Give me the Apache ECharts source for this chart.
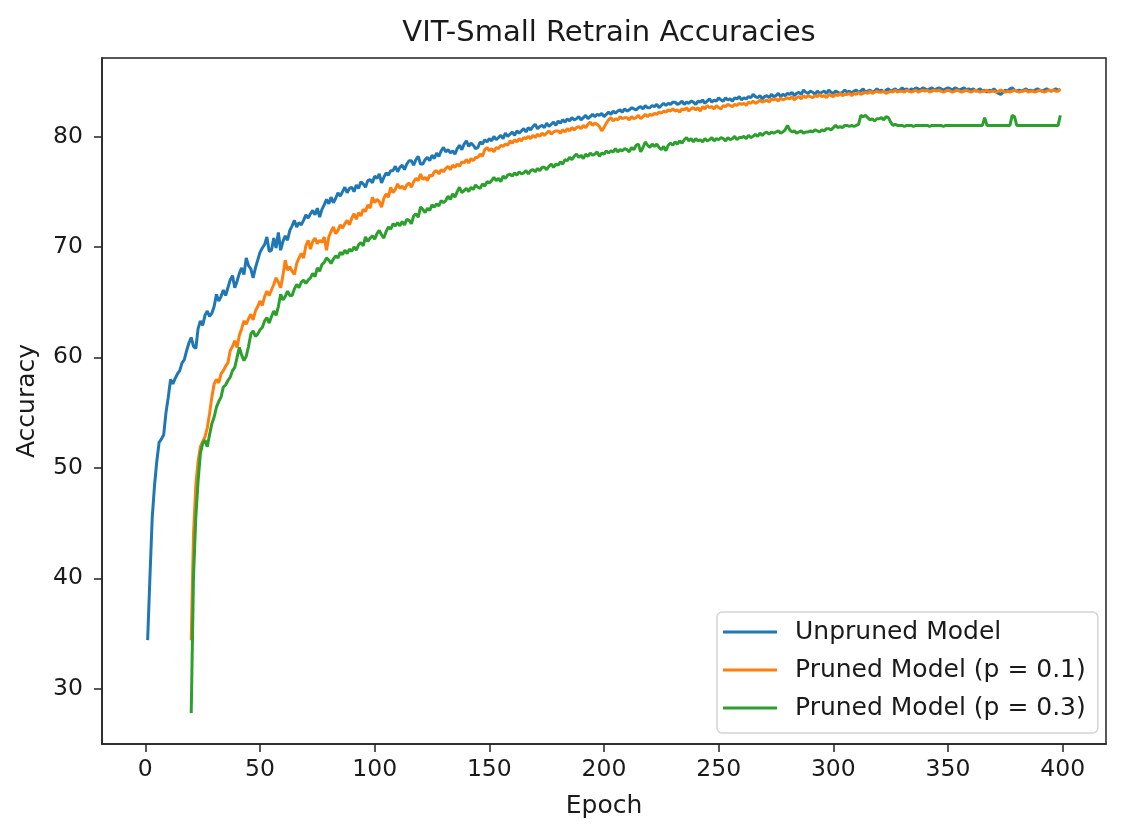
<!DOCTYPE html>
<html>
<head>
<meta charset="utf-8">
<title>VIT-Small Retrain Accuracies</title>
<script src="https://cdn.jsdelivr.net/npm/echarts@6/dist/echarts.min.js"></script>
<style>
  html, body { margin: 0; padding: 0; background: #fff; }
  #chart { width: 1123px; height: 838px; }
</style>
</head>
<body>
<div id="chart"></div>
<script>
// accuracy per epoch
var unprunedStart = 1;
var unpruned = [
  34.4, 40.1, 45.5, 48.4, 50.6, 52.3, 52.6, 53.0, 55.0, 56.4,
  58.0, 57.6, 58.1, 58.5, 58.8, 59.5, 59.8, 60.6, 61.3, 61.8,
  61.0, 60.8, 62.6, 63.3, 62.9, 63.8, 64.2, 63.7, 64.0, 64.6,
  65.7, 65.1, 65.5, 66.1, 65.6, 66.3, 67.0, 67.4, 66.3, 66.9,
  67.6, 68.1, 67.5, 69.0, 68.3, 68.0, 67.2, 68.1, 68.8, 69.5,
  69.9, 70.2, 70.9, 69.6, 69.7, 70.8, 69.9, 71.3, 69.7, 70.5,
  71.0, 70.6, 71.5, 71.9, 72.4, 71.8, 72.2, 72.0, 72.4, 72.9,
  72.6, 73.0, 73.3, 72.9, 73.5, 72.7, 73.4, 73.8, 74.3, 73.9,
  74.5, 74.0, 74.4, 74.9, 74.6, 75.0, 75.4, 74.9, 75.3, 75.4,
  75.0, 75.6, 75.3, 75.9, 75.7, 75.4, 76.0, 76.1, 75.8, 76.4,
  76.2, 76.6, 75.8, 76.3, 76.7, 76.5, 76.9, 76.9, 77.3, 76.8,
  77.2, 77.4, 77.0, 77.5, 77.8, 77.8, 77.4, 77.9, 78.2, 77.5,
  77.5, 77.9, 78.1, 77.8, 78.3, 78.0, 78.5, 78.2, 78.7, 79.0,
  78.6, 78.8, 78.5, 78.7, 78.4, 78.9, 79.2, 78.8, 79.3, 79.6,
  79.1, 79.4, 79.2, 78.9, 79.0, 79.5, 79.3, 79.7, 79.5, 79.8,
  79.6, 80.0, 79.7, 79.9, 80.1, 79.8, 80.3, 80.0, 80.2, 80.4,
  80.1, 80.5, 80.3, 80.5, 80.7, 80.4, 80.8, 80.6, 80.9, 81.1,
  80.7, 80.9, 81.0, 80.8, 81.2, 80.9, 81.1, 81.3, 81.0, 81.4,
  81.2, 81.5, 81.3, 81.6, 81.4, 81.7, 81.5, 81.6, 81.8, 81.5,
  81.7, 81.9, 81.6, 81.8, 82.0, 81.8, 82.0, 81.9, 82.1, 81.8,
  82.0, 82.2, 82.0, 82.3, 82.1, 82.3, 82.4, 82.2, 82.5, 82.3,
  82.4, 82.6, 82.5, 82.4, 82.6, 82.7, 82.5, 82.8, 82.6, 82.6,
  82.8, 82.7, 82.9, 82.6, 82.8, 83.0, 82.8, 83.0, 82.9, 83.1,
  83.1, 82.9, 83.0, 83.2, 82.9, 83.1, 83.0, 83.2, 83.1, 82.9,
  83.2, 83.1, 83.3, 83.0, 83.2, 83.4, 83.1, 83.3, 83.2, 83.5,
  83.3, 83.2, 83.5, 83.3, 83.4, 83.2, 83.5, 83.4, 83.6, 83.3,
  83.5, 83.4, 83.6, 83.5, 83.8, 83.6, 83.5, 83.7, 83.4, 83.6,
  83.7, 83.5, 83.8, 83.6, 83.7, 83.9, 83.6, 83.8, 83.7, 83.9,
  83.8, 84.0, 83.7, 83.9, 84.0, 83.8, 84.2, 84.0, 83.9, 84.1,
  84.0, 83.8, 84.1, 83.9, 84.0, 84.1, 83.9, 84.2, 84.0, 83.9,
  84.1, 84.0, 83.9, 84.0, 84.2, 84.0, 84.1, 83.9, 84.1, 84.2,
  84.0, 84.1, 84.3, 84.0, 84.1, 84.2, 84.0, 84.1, 84.3, 84.1,
  84.2, 84.0, 84.2, 84.3, 84.1, 84.2, 84.3, 84.1, 84.2, 84.4,
  84.2, 84.3, 84.1, 84.3, 84.2, 84.4, 84.3, 84.2, 84.4, 84.3,
  84.2, 84.3, 84.4, 84.2, 84.3, 84.4, 84.3, 84.2, 84.3, 84.4,
  84.3, 84.2, 84.4, 84.3, 84.2, 84.3, 84.4, 84.2, 84.3, 84.2,
  84.3, 84.1, 84.2, 84.3, 84.1, 84.2, 84.0, 84.2, 84.1, 84.3,
  84.1, 83.9, 83.8, 84.0, 84.2, 84.1, 84.3, 84.4, 84.2, 84.1,
  84.2, 84.1, 84.2, 84.3, 84.1, 84.2, 84.1, 84.2, 84.3, 84.2,
  84.1, 84.2, 84.3, 84.2, 84.1, 84.2, 84.3, 84.2, 84.2
];

var prunedStart = 20;
var pruned01 = [
  34.4, 44.0, 48.4, 50.6, 51.9, 52.4, 52.8, 53.6, 54.9, 56.4,
  57.6, 58.0, 57.7, 58.5, 58.8, 59.2, 59.5, 60.6, 61.0, 61.5,
  60.9, 62.0, 62.6, 63.3, 63.0, 63.5, 63.9, 63.4, 64.2, 64.6,
  65.1, 64.7, 65.5, 66.0, 65.6, 66.1, 66.6, 67.2, 66.8, 66.3,
  67.4, 68.8, 67.9, 68.2, 67.8, 67.5, 68.5, 69.0, 69.4, 69.0,
  70.1, 70.6, 69.8, 70.5, 70.8, 70.3, 70.6, 70.4, 70.9, 69.7,
  70.9, 71.4, 71.8, 71.2, 71.5, 72.0, 71.7, 72.1, 72.4, 72.0,
  72.6, 73.0, 72.5, 73.1, 72.8, 73.4, 73.2, 73.8, 73.5, 74.5,
  74.0, 74.3, 74.1, 73.6, 74.4, 74.8, 74.5, 75.4, 74.9, 75.2,
  75.7, 75.3, 75.5, 75.2, 75.6, 75.8, 75.4, 75.9, 76.2, 76.0,
  76.6, 76.1, 76.3, 76.0, 76.5, 76.4, 76.8, 76.9, 76.6, 77.0,
  76.8, 77.1, 77.3, 77.0, 77.4, 77.2, 77.5, 77.3, 77.7, 77.6,
  77.9, 77.6, 78.0, 77.8, 78.1, 78.1, 78.4, 78.2, 78.8, 79.0,
  78.7, 78.9, 78.6, 79.0, 78.9, 79.2, 79.1, 79.3, 79.2, 79.6,
  79.4, 79.7, 79.5, 79.8, 79.6, 79.9, 79.8, 80.0, 79.8, 80.1,
  79.9, 80.2, 80.0, 80.3, 80.1, 80.3, 80.5, 80.2, 80.4, 80.5,
  80.5, 80.3, 80.6, 80.4, 80.7, 80.5, 80.8, 80.6, 80.8, 80.9,
  80.7, 81.0, 80.8, 81.1, 81.3, 81.0, 81.2, 81.1, 80.9, 80.5,
  80.8, 81.2, 81.5, 81.7, 81.4, 81.6, 81.5, 81.8, 81.6, 81.7,
  81.7, 81.5, 81.8, 81.6, 81.7, 81.9, 81.6, 81.8, 82.0, 81.8,
  82.0, 81.9, 82.1, 82.0, 82.2, 82.1, 82.3, 82.2, 82.4, 82.3,
  82.5, 82.3, 82.4, 82.2, 82.5, 82.4, 82.6, 82.3, 82.5, 82.6,
  82.4, 82.6, 82.3, 82.7, 82.5, 82.8, 82.6, 82.7, 82.5, 82.8,
  82.6, 82.5, 82.8, 82.7, 82.9, 82.8, 82.7, 82.9, 82.8, 83.0,
  82.9, 83.0, 82.8, 83.1, 83.0, 83.2, 83.0, 83.1, 83.3, 83.1,
  83.2, 83.3, 83.1, 83.4, 83.3, 83.4, 83.2, 83.5, 83.3, 83.4,
  83.5, 83.4, 83.6, 83.3, 83.5, 83.6, 83.4, 83.7, 83.5, 83.7,
  83.6, 83.5, 83.7, 83.6, 83.8, 83.6, 83.7, 83.5, 83.8, 83.7,
  83.6, 83.8, 83.7, 83.9, 83.7, 83.8, 83.8, 83.9, 83.7, 83.9,
  83.8, 84.0, 83.8, 83.9, 84.0, 83.9, 84.1, 83.9, 84.0, 84.1,
  84.0, 84.0, 84.1, 83.9, 84.0, 84.1, 84.0, 84.2, 84.0, 84.1,
  84.1, 84.0, 84.2, 84.1, 84.0, 84.1, 84.2, 84.0, 84.1, 84.2,
  84.1, 84.2, 84.0, 84.1, 84.2, 84.1, 84.2, 84.1, 84.0, 84.1,
  84.2, 84.1, 84.0, 84.1, 84.2, 84.1, 84.0, 84.1, 84.2, 84.1,
  84.0, 84.1, 84.2, 84.1, 84.0, 84.1, 84.1, 84.2, 84.0, 84.1,
  84.1, 84.0, 84.1, 84.2, 84.1, 84.0, 84.1, 84.0, 84.1, 84.2,
  84.1, 84.0, 84.1, 84.1, 84.2, 84.0, 84.1, 84.1, 84.0, 84.1,
  84.2, 84.1, 84.0, 84.1, 84.2, 84.1, 84.2, 84.1, 84.1, 84.3
];

var pruned03 = [
  27.8, 40.1, 45.5, 48.8, 51.3, 52.2, 52.5, 51.9, 53.0, 54.0,
  54.6, 55.5, 56.0, 56.4, 57.3, 57.5, 57.9, 58.2, 58.8, 59.1,
  60.0, 60.9, 60.2, 59.7, 60.1, 61.0, 62.1, 62.4, 61.9, 62.1,
  62.5, 62.7, 63.3, 63.6, 63.1, 63.7, 64.2, 63.8, 64.6, 65.7,
  65.2, 65.5, 66.0, 65.6, 65.6, 66.2, 66.6, 66.3, 66.8, 67.0,
  66.7, 67.0, 67.2, 67.6, 67.3, 68.1, 67.8, 68.4, 68.6, 69.0,
  68.8, 68.5, 68.9, 69.2, 69.0, 69.5, 69.3, 69.7, 69.4, 69.8,
  69.6, 70.0, 69.7, 70.2, 70.4, 70.1, 70.9, 70.5, 70.8, 71.0,
  70.7, 71.2, 71.5, 71.1, 70.8, 71.4, 71.8, 71.6, 72.1, 71.9,
  72.2, 71.9, 72.3, 72.0, 72.5, 72.4, 72.1, 72.8, 73.0, 72.7,
  73.6, 73.4, 73.1, 73.5, 73.3, 73.8, 73.6, 73.9, 73.7, 74.2,
  74.0, 74.2, 74.6, 74.3, 74.8, 74.5, 75.0, 75.4, 74.9, 75.1,
  75.3, 75.0, 75.4, 75.2, 75.6, 75.4, 75.3, 75.7, 75.5, 75.9,
  75.8, 76.0, 76.3, 76.0, 76.2, 75.9, 76.4, 76.2, 76.5, 76.6,
  76.4, 76.7, 76.5, 76.8, 76.6, 76.7, 76.9, 76.6, 76.9, 77.0,
  76.8, 77.1, 76.9, 77.2, 77.2, 77.0, 77.3, 77.5, 77.2, 77.5,
  77.4, 77.7, 77.5, 77.9, 77.8, 78.1, 77.9, 78.2, 78.4, 78.1,
  78.3, 78.0, 78.4, 78.2, 78.5, 78.3, 78.4, 78.6, 78.2, 78.5,
  78.4, 78.7, 78.5, 78.7, 78.6, 78.9, 78.6, 78.8, 78.7, 78.9,
  78.8, 78.6, 79.0, 78.8, 79.2, 79.3, 78.6, 79.0, 79.5, 79.2,
  79.0, 79.3, 79.1, 79.3, 79.0, 78.8, 79.1, 78.7, 79.2, 79.4,
  79.2, 79.5, 79.3, 79.6, 79.4, 79.7, 79.9, 79.6, 79.8, 79.5,
  79.8, 79.6, 79.7, 79.5, 79.8, 79.6, 79.7, 79.9, 79.6, 79.8,
  79.7, 79.9, 79.8, 79.6, 79.9, 79.7, 79.8, 80.0, 79.7, 79.9,
  79.9, 80.0, 79.8, 80.1, 79.9, 80.0, 80.2, 80.0, 80.3, 80.1,
  80.3, 80.4, 80.2, 80.4, 80.3, 80.4, 80.5, 80.3, 80.4, 80.6,
  81.0, 80.6, 80.4, 80.5, 80.3, 80.4, 80.5, 80.3, 80.4, 80.4,
  80.5, 80.4, 80.6, 80.5, 80.4, 80.6, 80.5, 80.7, 80.7, 80.6,
  80.8, 81.0, 80.8, 80.9, 80.8, 81.0, 81.0, 80.9, 81.0, 80.9,
  81.0, 81.1, 81.9, 81.8, 81.9, 81.7, 81.5, 81.6, 81.4, 81.6,
  81.6, 81.7, 81.5, 81.8, 81.7, 81.3, 81.0, 81.1, 81.0, 81.0,
  81.0, 80.9, 81.0, 81.0, 81.0, 80.9, 81.0, 81.0, 81.0, 81.0,
  81.0, 81.0, 80.9, 81.0, 81.0, 81.0, 81.0, 81.0, 80.9, 81.0,
  81.0, 81.0, 81.0, 81.0, 81.0, 81.0, 81.0, 81.0, 81.0, 81.0,
  81.0, 81.0, 81.0, 81.0, 81.0, 81.0, 81.7, 81.0, 81.0, 81.0,
  81.0, 81.0, 81.0, 81.0, 81.0, 81.0, 81.0, 81.0, 81.9, 81.8,
  81.0, 81.0, 81.0, 81.0, 81.0, 81.0, 81.0, 81.0, 81.0, 81.0,
  81.0, 81.0, 81.0, 81.0, 81.0, 81.0, 81.0, 81.0, 81.0, 81.9
];

var seriesNames = ['Unpruned Model', 'Pruned Model (p = 0.1)', 'Pruned Model (p = 0.3)'];
var xTicks = [0, 50, 100, 150, 200, 250, 300, 350, 400];
var yTicks = [30, 40, 50, 60, 70, 80];

function toPoints(start, values) {
  var pts = [];
  for (var i = 0; i < values.length; i++) {
    pts.push([start + i, values[i]]);
  }
  return pts;
}

var chart = echarts.init(document.getElementById('chart'), null, { renderer: 'canvas' });
var font = 'DejaVu Sans';
var ink = '#1a1a1a';

function lineSeries(name, color, pts) {
  return {
    name: name,
    type: 'line',
    data: pts,
    symbol: 'none',
    showSymbol: false,
    color: color,
    lineStyle: { color: color, width: 3 },
    animation: false
  };
}

var option = {
  animation: false,
  backgroundColor: '#fff',
  title: {
    text: 'VIT-Small Retrain Accuracies',
    left: 604,
    textAlign: 'center',
    top: 14,
    textStyle: { fontFamily: font, fontSize: 29, fontWeight: 'normal', color: ink }
  },
  grid: {
    left: 102, right: 17, top: 58, bottom: 94,
    show: true, borderColor: '#222', borderWidth: 1.5, backgroundColor: 'transparent'
  },
  legend: {
    orient: 'vertical',
    left: 717, top: 612,
    data: seriesNames,
    icon: 'rect',
    itemWidth: 54, itemHeight: 3,
    itemGap: 12,
    padding: [7, 12, 12, 6],
    borderColor: '#d4d4d4', borderWidth: 1.5, borderRadius: 5,
    backgroundColor: 'rgba(255,255,255,0.8)',
    textStyle: { fontFamily: font, fontSize: 25, color: ink, lineHeight: 26, padding: [0, 0, 0, 13] }
  },
  xAxis: {
    type: 'value',
    min: -18.9, max: 418.9,
    name: 'Epoch', nameLocation: 'middle', nameGap: 50,
    nameTextStyle: { fontFamily: font, fontSize: 25, color: ink },
    axisLine: { show: true, onZero: false, lineStyle: { color: '#222', width: 1.5 } },
    axisTick: { show: true, length: 8, customValues: xTicks, lineStyle: { color: '#222', width: 1.5 } },
    axisLabel: { customValues: xTicks, fontFamily: font, fontSize: 23.5, color: ink, margin: 14 },
    splitLine: { show: false }
  },
  yAxis: {
    type: 'value',
    min: 25.0, max: 87.1,
    name: 'Accuracy', nameLocation: 'middle', nameGap: 62,
    nameTextStyle: { fontFamily: font, fontSize: 25, color: ink },
    axisLine: { show: true, onZero: false, lineStyle: { color: '#222', width: 1.5 } },
    axisTick: { show: true, length: 8, customValues: yTicks, lineStyle: { color: '#222', width: 1.5 } },
    axisLabel: { customValues: yTicks, fontFamily: font, fontSize: 23.5, color: ink, margin: 19 },
    splitLine: { show: false }
  },
  series: [
    lineSeries(seriesNames[0], '#1f77b4', toPoints(unprunedStart, unpruned)),
    lineSeries(seriesNames[1], '#ff7f0e', toPoints(prunedStart, pruned01)),
    lineSeries(seriesNames[2], '#2ca02c', toPoints(prunedStart, pruned03))
  ]
};

chart.setOption(option);
</script>
</body>
</html>
